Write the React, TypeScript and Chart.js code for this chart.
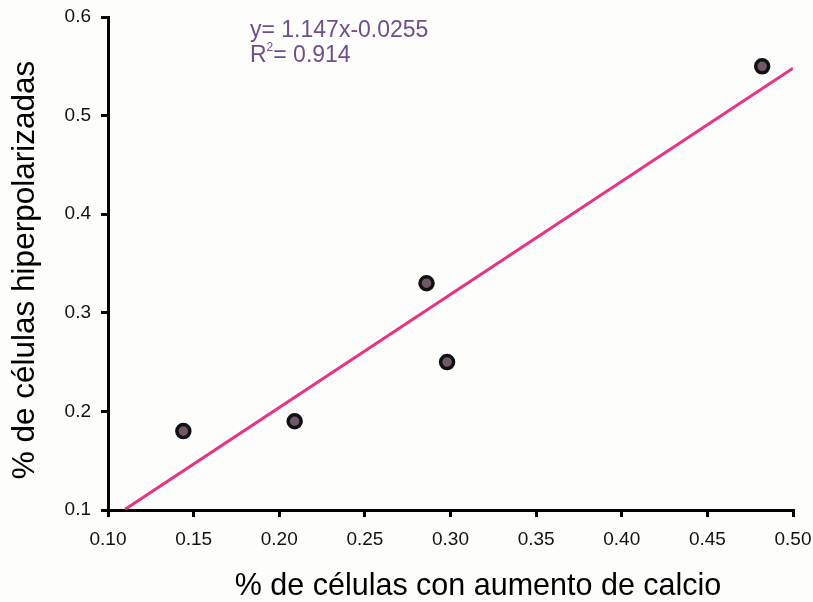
import React, { useEffect, useRef } from "react";
import { Chart, registerables } from "chart.js";

Chart.register(...registerables);

const calcioX = [0.144, 0.209, 0.286, 0.298, 0.482];
const hiperY = [0.18, 0.19, 0.33, 0.25, 0.55];
const fitX = [0.11, 0.5];
const fitY = [0.1007, 0.548];
const yTicks = [0.1, 0.2, 0.3, 0.4, 0.5, 0.6];
const xTicks = [0.1, 0.15, 0.2, 0.25, 0.3, 0.35, 0.4, 0.45, 0.5];
const equationText = "y= 1.147x-0.0255";
const r2Text = "= 0.914";
const xTitle = "% de células con aumento de calcio";
const yTitle = "% de células hiperpolarizadas";

const FONT = "'Liberation Sans', Arial, sans-serif";

export default function App() {
  const ref = useRef<HTMLCanvasElement | null>(null);
  useEffect(() => {
    const canvas = ref.current!;
    const bgPlugin = {
      id: "bg",
      beforeDraw(chart: any) {
        const ctx = chart.ctx;
        ctx.save();
        ctx.fillStyle = "#fdfdfb";
        ctx.fillRect(0, 0, chart.width, chart.height);
        ctx.restore();
      },
      afterDraw(chart: any) {
        const ctx = chart.ctx;
        ctx.save();
        ctx.fillStyle = "#6e4f8a";
        ctx.font = `23px ${FONT}`;
        ctx.textBaseline = "alphabetic";
        ctx.textAlign = "left";
        ctx.fillText(equationText, 250, 37);
        ctx.fillText("R", 250, 62);
        const rw = ctx.measureText("R").width;
        ctx.font = `12px ${FONT}`;
        ctx.fillText("2", 250 + rw, 51);
        const sw = ctx.measureText("2").width;
        ctx.font = `23px ${FONT}`;
        ctx.fillText(r2Text, 250 + rw + sw, 62);
        // x title
        ctx.fillStyle = "#000";
        ctx.font = `30.5px ${FONT}`;
        ctx.textAlign = "center";
        ctx.fillText(xTitle, 478, 595);
        // y title
        ctx.font = `31.5px ${FONT}`;
        ctx.translate(34, 270);
        ctx.rotate(-Math.PI / 2);
        ctx.fillText(yTitle, 0, 0);
        ctx.restore();
      },
    };
    const chart = new Chart(canvas, {
      type: "scatter",
      data: {
        datasets: [
          {
            type: "line",
            data: fitX.map((x, i) => ({ x, y: fitY[i] })),
            borderColor: "#e83383",
            borderWidth: 3,
            pointRadius: 0,
            fill: false,
          } as any,
          {
            type: "scatter",
            data: calcioX.map((x, i) => ({ x, y: hiperY[i] })),
            backgroundColor: "#6f5868",
            borderColor: "#111",
            borderWidth: 3.5,
            pointRadius: 6.5,
          },
        ],
      },
      plugins: [bgPlugin],
      options: {
        responsive: false,
        animation: false,
        events: [],
        layout: { padding: { top: 17, right: 20, left: 0, bottom: 0 } },
        plugins: { legend: { display: false }, tooltip: { enabled: false } },
        scales: {
          x: {
            type: "linear",
            min: 0.1,
            max: 0.5,
            afterBuildTicks: (s: any) => {
              s.ticks = xTicks.map((v) => ({ value: v }));
            },
            afterFit: (s: any) => {
              s.height = 92;
              s.paddingLeft = 0;
              s.paddingRight = 0;
            },
            ticks: {
              color: "#111",
              font: { family: FONT, size: 19 },
              padding: 11,
              maxRotation: 0,
              autoSkip: false,
              callback: (v: any) => Number(v).toFixed(2),
            },
            grid: {
              drawOnChartArea: false,
              drawTicks: true,
              tickLength: 7,
              color: "#000",
              lineWidth: 3,
            },
            border: { display: true, color: "#000", width: 3 },
          },
          y: {
            type: "linear",
            min: 0.1,
            max: 0.6,
            afterBuildTicks: (s: any) => {
              s.ticks = yTicks.map((v) => ({ value: v }));
            },
            afterFit: (s: any) => {
              s.width = 108;
              s.paddingTop = 0;
              s.paddingBottom = 0;
            },
            ticks: {
              color: "#111",
              font: { family: FONT, size: 19 },
              padding: 10,
              autoSkip: false,
              callback: (v: any) => Number(v).toFixed(1),
            },
            grid: {
              drawOnChartArea: false,
              drawTicks: true,
              tickLength: 7,
              color: "#000",
              lineWidth: 3,
            },
            border: { display: true, color: "#000", width: 3 },
          },
        },
      },
    });
    return () => chart.destroy();
  }, []);
  return (
    <div style={{ position: "absolute", left: 0, top: 0, width: 813, height: 602 }}>
      <canvas ref={ref} width={813} height={602} style={{ display: "block" }} />
    </div>
  );
}
